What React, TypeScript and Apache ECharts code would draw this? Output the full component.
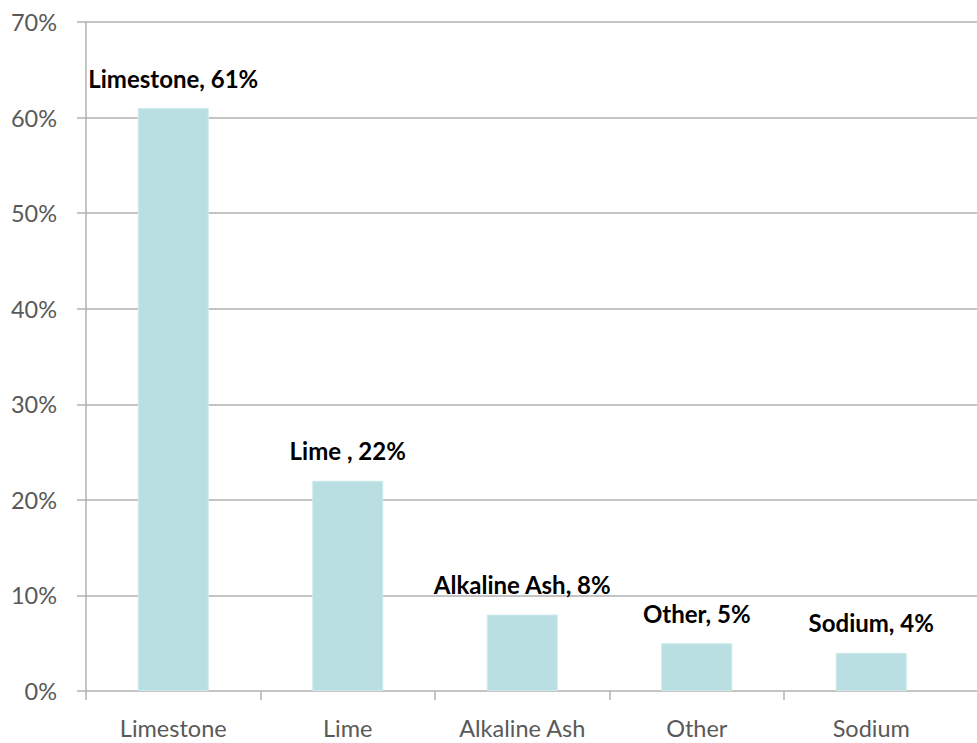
import React, { useEffect, useRef } from "react";
import * as echarts from "echarts";

const categories = ["Limestone", "Lime", "Alkaline Ash", "Other", "Sodium"];
const values = [61, 22, 8, 5, 4];
const barLabels = ["Limestone, 61%", "Lime , 22%", "Alkaline Ash, 8%", "Other, 5%", "Sodium, 4%"];
const yTicks = [0, 10, 20, 30, 40, 50, 60, 70];

export default function App() {
  const ref = useRef<HTMLDivElement>(null);
  useEffect(() => {
    if (!ref.current) return;
    const chart = echarts.init(ref.current, null, { renderer: "svg" });
    const font = "Lato, 'Noto Sans', sans-serif";
    const axisData = [...categories, ""];
    chart.setOption({
      animation: false,
      backgroundColor: "#ffffff",
      grid: {
        left: 86,
        top: 22,
        bottom: 52,
        right: 977 - 86 - 174.5 * axisData.length,
        containLabel: false,
        outerBoundsMode: "none",
      },
      xAxis: {
        type: "category",
        data: axisData,
        boundaryGap: true,
        axisLine: { show: false },
        axisTick: {
          show: true,
          length: 9,
          interval: (i: number) => i !== categories.length,
          lineStyle: { color: "#b0b0b0", width: 1.5 },
        },
        axisLabel: { color: "#595959", fontFamily: font, fontSize: 23.5, margin: 25, interval: 0 },
      },
      yAxis: {
        type: "value",
        min: yTicks[0],
        max: yTicks[yTicks.length - 1],
        interval: 10,
        axisLine: { show: true, lineStyle: { color: "#b0b0b0", width: 1.5 } },
        axisTick: { show: true, length: 9, lineStyle: { color: "#b0b0b0", width: 1.5 } },
        splitLine: { show: true, lineStyle: { color: "#c4c4c4", width: 2 } },
        axisLabel: {
          color: "#595959",
          fontFamily: font,
          fontSize: 23.5,
          margin: 29,
          formatter: (v: number) => v + "%",
        },
      },
      series: [
        {
          type: "bar",
          barWidth: 71,
          data: values.map((v, i) => ({
            value: v,
            label: { formatter: barLabels[i] },
          })),
          itemStyle: { color: "#b9dfe2", borderColor: "#cdeaec", borderWidth: 1 },
          label: {
            show: true,
            position: "top",
            distance: 18,
            color: "#000000",
            fontFamily: font,
            fontWeight: "bold",
            fontSize: 24,
          },
        },
      ],
    });
    return () => chart.dispose();
  }, []);
  return <div ref={ref} style={{ width: 977, height: 743, position: "fixed", left: 0, top: 0 }} />;
}
